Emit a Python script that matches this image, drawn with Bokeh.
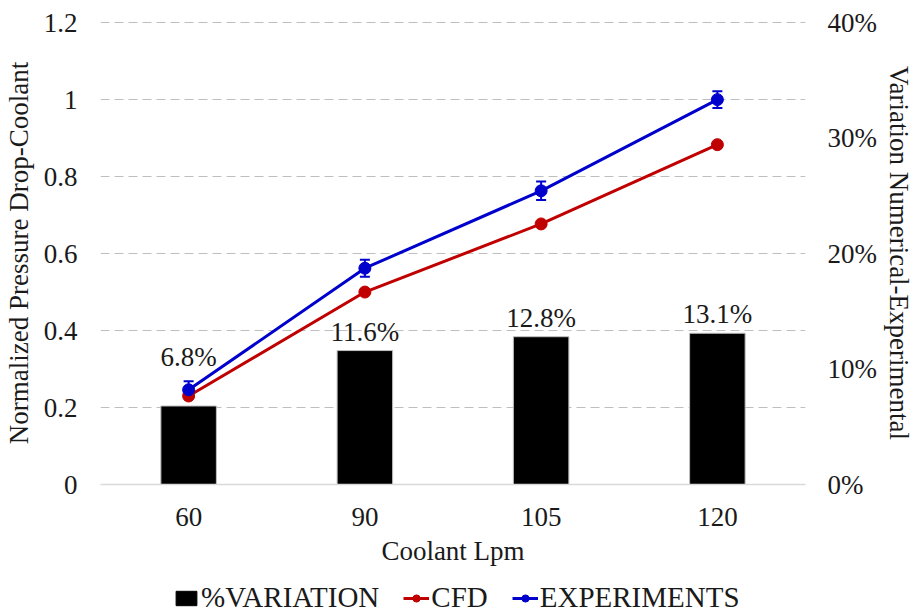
from bokeh.plotting import figure
from bokeh.layouts import column
from bokeh.models import (FactorRange, Range1d, LinearAxis, NumeralTickFormatter, FixedTicker,
                          Legend, LegendItem, ColumnDataSource, Whisker, LabelSet, TeeHead)
from bokeh.embed import file_html
from bokeh.resources import INLINE

categories = ["60", "90", "105", "120"]
variation = [0.068, 0.116, 0.128, 0.131]
variation_labels = ["6.8%", "11.6%", "12.8%", "13.1%"]
cfd = [0.23, 0.50, 0.677, 0.883]
experiments = [0.246, 0.562, 0.763, 1.0]
exp_err = [0.022, 0.022, 0.024, 0.022]
left_ticks = [0, 0.2, 0.4, 0.6, 0.8, 1.0, 1.2]
right_ticks = [0, 0.1, 0.2, 0.3, 0.4]
legend_labels = ["%VARIATION", "CFD", "EXPERIMENTS"]
label_offsets = [34, 4, 4, 4]  # style: pixel lift of each bar label

FONT = "Liberation Serif, Times New Roman, serif"
FS = "27px"
TXT = "#1a1a1a"
RED = "#C00000"
BLUE = "#0000CC"

p = figure(x_range=FactorRange(*categories), y_range=Range1d(0, 1.203),
           width=916, height=576, output_backend="svg", toolbar_location=None,
           min_border_left=100, min_border_right=108, min_border_top=21, min_border_bottom=92)
p.extra_y_ranges = {"pct": Range1d(0, 0.401)}
p.outline_line_color = None
p.background_fill_color = "white"

src = ColumnDataSource(dict(cat=categories, var=variation, lbl=variation_labels, off=label_offsets,
                            cfd=cfd, exp=experiments,
                            up=[e + d for e, d in zip(experiments, exp_err)],
                            lo=[e - d for e, d in zip(experiments, exp_err)]))

p.vbar(x="cat", top="var", width=0.315, y_range_name="pct", source=src,
       fill_color="black", line_color="#bfbfbf", line_width=1)

labels = LabelSet(x="cat", y="var", text="lbl", y_range_name="pct", source=src,
                  y_offset="off", text_align="center", text_baseline="bottom",
                  text_font=FONT, text_font_size=FS, text_color=TXT)
p.add_layout(labels)

p.line(x="cat", y="cfd", source=src, line_color=RED, line_width=3)
p.scatter(x="cat", y="cfd", source=src, size=12, fill_color=RED, line_color=RED)
p.line(x="cat", y="exp", source=src, line_color=BLUE, line_width=3)
w = Whisker(base="cat", upper="up", lower="lo", source=src, line_color=BLUE, line_width=2,
            upper_head=TeeHead(size=10, line_color=BLUE, line_width=2),
            lower_head=TeeHead(size=10, line_color=BLUE, line_width=2))
p.add_layout(w)
p.scatter(x="cat", y="exp", source=src, size=12, fill_color=BLUE, line_color=BLUE)

# axes
p.yaxis.ticker = FixedTicker(ticks=left_ticks)
p.yaxis.formatter = NumeralTickFormatter(format="0.[0]")
p.yaxis.axis_label = "Normalized Pressure Drop-Coolant"
p.xaxis.axis_label = "Coolant Lpm"

ry = LinearAxis(y_range_name="pct", ticker=FixedTicker(ticks=right_ticks),
                formatter=NumeralTickFormatter(format="0%"),
                axis_label="Variation Numerical-Experimental")
p.add_layout(ry, "right")

for ax in [p.yaxis[0], ry, p.xaxis[0]]:
    ax.major_label_text_font = FONT
    ax.major_label_text_font_size = FS
    ax.major_label_text_color = TXT
    ax.axis_label_text_font = FONT
    ax.axis_label_text_font_size = FS
    ax.axis_label_text_font_style = "normal"
    ax.axis_label_text_color = TXT
    ax.major_tick_line_color = None
    ax.minor_tick_line_color = None
    ax.major_tick_out = 0
    ax.major_tick_in = 0
    ax.minor_tick_out = 0
    ax.minor_tick_in = 0

p.yaxis[0].axis_line_color = None
ry.axis_line_color = None
p.yaxis[0].major_label_standoff = 23
ry.major_label_standoff = 22
p.yaxis[0].axis_label_standoff = 7
ry.axis_label_standoff = 4
p.xaxis.axis_line_color = "#d9d9d9"
p.xaxis.axis_line_width = 1.5
p.xaxis.major_label_standoff = 23
p.xaxis.axis_label_standoff = 7

p.xgrid.grid_line_color = None
p.ygrid.ticker = FixedTicker(ticks=left_ticks[1:])
p.ygrid.grid_line_color = "#bfbfbf"
p.ygrid.grid_line_dash = "9 5"
p.ygrid.grid_line_width = 1.2

# legend strip below the chart
lg = figure(width=916, height=40, output_backend="svg", toolbar_location=None,
            x_range=Range1d(0, 1), y_range=Range1d(0, 1), x_axis_type=None, y_axis_type=None,
            min_border=0)
lg.outline_line_color = None
lg.grid.visible = False
dummy = ColumnDataSource(dict(x=[-5.0], y=[-5.0], top=[-4.0]))
r_bar = lg.vbar(x="x", top="top", bottom="y", width=0.1, source=dummy,
                fill_color="black", line_color="black")
r_cl = lg.line(x="x", y="y", source=dummy, line_color=RED, line_width=3)
r_cd = lg.scatter(x="x", y="y", source=dummy, size=10, fill_color=RED, line_color=RED)
r_el = lg.line(x="x", y="y", source=dummy, line_color=BLUE, line_width=3)
r_ed = lg.scatter(x="x", y="y", source=dummy, size=10, fill_color=BLUE, line_color=BLUE)

legend = Legend(items=[LegendItem(label=legend_labels[0], renderers=[r_bar]),
                       LegendItem(label=legend_labels[1], renderers=[r_cl, r_cd]),
                       LegendItem(label=legend_labels[2], renderers=[r_el, r_ed])],
                orientation="horizontal", location=(73, 2),
                label_text_font=FONT, label_text_font_size="29px", label_text_color=TXT,
                glyph_width=26, glyph_height=18, spacing=24, label_standoff=2,
                border_line_color=None, background_fill_alpha=0, padding=0, margin=0)
lg.add_layout(legend)

open("out.html", "w").write(file_html(column(p, lg, spacing=0), INLINE))
